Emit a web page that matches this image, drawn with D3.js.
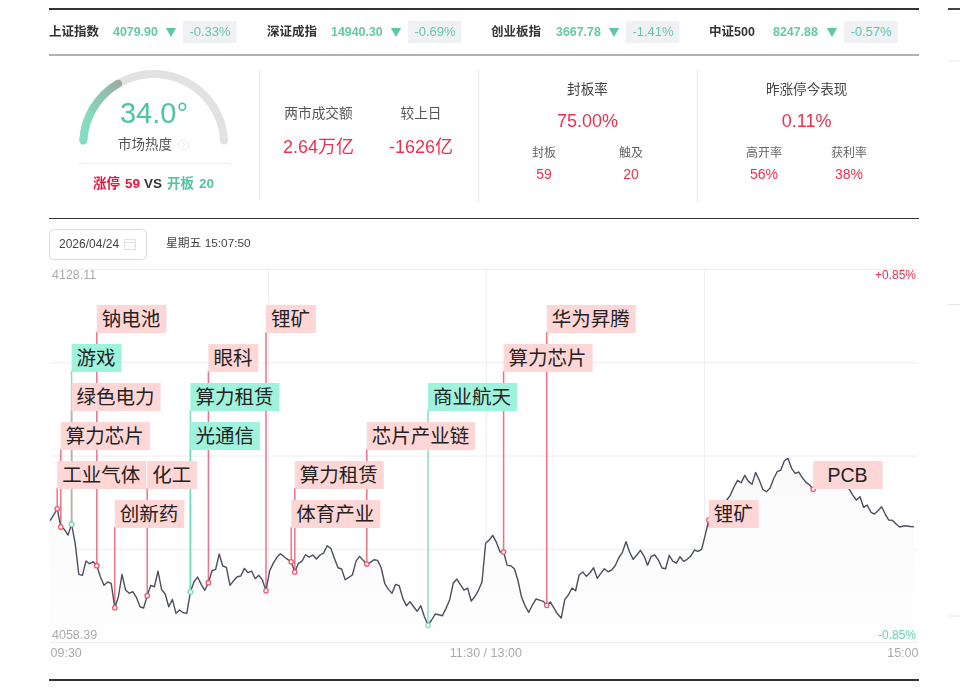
<!DOCTYPE html>
<html lang="zh"><head><meta charset="utf-8">
<script src="https://cdn.jsdelivr.net/npm/d3@7/dist/d3.min.js"></script>
<style>
html,body{margin:0;padding:0;background:#fff;overflow:hidden}
svg{display:block;filter:blur(.3px)}
text{font-family:"Liberation Sans","Noto Sans CJK SC",sans-serif}
</style></head><body><div id="chart"></div>
<script>
// index strip
const indexNames=["上证指数","深证成指","创业板指","中证500"];
const indexValues=["4079.90","14940.30","3667.78","8247.88"];
const indexChanges=["-0.33%","-0.69%","-1.41%","-0.57%"];
// sentiment
const heatDegree=34.0;
const limitUp=59, openBoard=20;
// intraday index level, one reading per minute (09:30–15:00, 240 trading minutes)
const minuteValues=[
4081.06,4082.12,4083.30,4079.88,4079.45,4078.38,4080.38,4076.83,4071.04,4070.85,
4073.52,4073.02,4073.39,4072.65,4070.59,4068.98,4069.60,4069.36,4064.79,4066.85,
4071.04,4068.10,4067.49,4067.79,4066.74,4064.98,4064.74,4067.04,4068.98,4068.72,
4071.65,4068.23,4067.36,4064.98,4066.36,4063.75,4064.37,4063.86,4063.75,4067.73,
4069.65,4070.53,4069.17,4068.05,4069.47,4071.71,4071.97,4074.83,4072.59,4072.35,
4068.98,4069.84,4070.59,4070.72,4072.16,4071.34,4071.65,4070.22,4070.85,4069.97,
4067.97,4071.65,4073.09,4074.22,4074.89,4074.33,4073.84,4073.39,4071.47,4073.09,
4073.52,4074.70,4074.27,4074.65,4073.90,4074.65,4075.02,4076.38,4075.90,4074.03,
4072.27,4072.03,4070.03,4070.48,4070.91,4073.52,4074.40,4073.65,4072.96,4073.28,
4073.77,4073.65,4072.27,4069.28,4068.23,4067.49,4069.17,4068.91,4066.55,4065.17,
4065.92,4064.98,4064.12,4065.17,4063.11,4061.51,4062.50,4063.62,4063.49,4063.30,
4064.68,4066.23,4069.36,4070.16,4069.10,4068.10,4068.48,4066.05,4066.85,4068.05,
4069.60,4076.83,4077.45,4078.33,4077.02,4075.21,4075.21,4072.72,4072.65,4072.08,
4069.84,4066.74,4065.11,4063.94,4065.30,4066.42,4066.23,4065.99,4065.24,4065.86,
4064.74,4063.62,4062.87,4066.36,4067.17,4068.48,4067.97,4070.96,4071.47,4070.66,
4071.34,4072.27,4070.29,4071.22,4072.08,4071.52,4071.84,4072.65,4074.14,4075.15,
4077.13,4075.21,4073.84,4074.65,4075.52,4074.46,4072.72,4074.40,4074.65,4073.71,
4072.22,4072.08,4074.59,4073.52,4073.15,4074.33,4073.47,4073.84,4074.46,4075.58,
4075.34,4075.71,4078.38,4081.19,4081.94,4082.68,4083.62,4084.18,4084.93,4085.86,
4087.36,4088.61,4088.16,4089.54,4088.42,4087.86,4090.10,4088.66,4086.93,4086.48,
4087.11,4088.91,4090.22,4090.53,4092.27,4092.72,4090.85,4089.92,4090.16,4089.09,
4088.23,4087.73,4086.93,4087.36,4087.92,4087.54,4088.66,4089.04,4088.29,4088.85,
4089.22,4088.10,4086.98,4085.86,4084.93,4085.54,4083.56,4083.99,4082.68,4082.31,
4082.93,4083.68,4082.31,4081.19,4081.13,4080.44,4079.88,4080.07,4080.07,4079.97,
4079.90];
const priceLevels=[4128.11,4110.68,4093.25,4075.82,4058.39];
const gridMinutes=[60.6,121.2,181.8];
const axisMinutes=[0,121.2,240];
const axisLabels=["09:30","11:30 / 13:00","15:00"];
// sector events
const eventNames=["工业气体","算力芯片","绿色电力","游戏","钠电池","创新药","化工","光通信","算力租赁","眼科","锂矿","体育产业","算力租赁","芯片产业链","商业航天","算力芯片","华为昇腾","锂矿","PCB"];
const eventMinutes=[2,3,6,6,13,18,27,39,39,44,60,67,68,88,105,126,138,183,212];
const eventRows=[1,2,3,4,5,0,1,2,3,4,5,0,1,2,3,4,5,0,1];
const eventKinds=["up","up","up","down","up","up","up","down","down","up","up","up","up","up","down","up","up","up","up"];

const RED="#ee2f4e",GREEN="#5cc8a6",INK="#333";
const W=960,H=690;
const svg=d3.select("#chart").append("svg").attr("width",W).attr("height",H).attr("viewBox",`0 0 ${W} ${H}`);
const defs=svg.append("defs");
function txt(g,x,y,s,size,fill,anchor="start",weight=400){
  return g.append("text").attr("x",x).attr("y",y).attr("font-size",size).attr("fill",fill).attr("text-anchor",anchor).attr("font-weight",weight).text(s);
}
function rule(g,x1,x2,y1,y2,c,w){g.append("line").attr("x1",x1).attr("x2",x2).attr("y1",y1).attr("y2",y2).attr("stroke",c).attr("stroke-width",w);}

// frame rules
const fr=svg.append("g");
rule(fr,49,919,9,9,"#333",2);rule(fr,49,919,55,55,"#666",1);rule(fr,49,919,218.5,218.5,"#333",1);rule(fr,49,919,680,680,"#333",2);
rule(fr,948,960,9,9,"#444",2);rule(fr,948,960,61,61,"#eee",1);rule(fr,948,960,304.5,304.5,"#e8e8e8",1);rule(fr,948,960,616,616,"#e8e8e8",1);

// index strip
const nameX=[49,267,491,709],valX=[113,331,556,773],triX=[171,396,614,832],chipX=[183,408,626,844];
const st=svg.append("g");
indexNames.forEach((n,i)=>{
  txt(st,nameX[i],36,n,12.5,"#333","start",700);
  txt(st,valX[i],36,indexValues[i],12.4,"#66c7a8","start",700);
  st.append("path").attr("d",d3.symbol(d3.symbolTriangle,46)).attr("transform",`translate(${triX[i]},31) rotate(180)`).attr("fill",GREEN);
  st.append("rect").attr("x",chipX[i]).attr("y",21).attr("width",53.5).attr("height",22).attr("fill","#eff1f5");
  txt(st,chipX[i]+27,36,indexChanges[i],13,"#66c7a8","middle");
});

// gauge
const G=svg.append("g").attr("transform","translate(153.7,144.5)");
const gr=defs.append("linearGradient").attr("id","gaugeGrad").attr("x1",0).attr("y1",1).attr("x2",1).attr("y2",0);
gr.append("stop").attr("offset",.3).attr("stop-color","#84dcc0");gr.append("stop").attr("offset",1).attr("stop-color","#9aaa9f");
const arcGen=d3.arc().innerRadius(66.5).outerRadius(74.5).cornerRadius(4);
const gaugeAngle=d3.scaleLinear().domain([0,100]).range([-Math.PI/2,Math.PI/2]);
G.append("path").attr("d",arcGen({startAngle:gaugeAngle(0),endAngle:gaugeAngle(100)})).attr("fill","#e2e2e2");
G.append("path").attr("d",arcGen({startAngle:gaugeAngle(0),endAngle:gaugeAngle(heatDegree)+0.03})).attr("fill","url(#gaugeGrad)");
txt(svg,154,123,heatDegree.toFixed(1)+"°",29,"#4fc4a0","middle");
txt(svg,145,149,"市场热度",13.5,"#555","middle");
svg.append("circle").attr("cx",183.5).attr("cy",145).attr("r",5).attr("fill","none").attr("stroke","#eaeaea").attr("stroke-width",1);
txt(svg,183.5,148,"?",8,"#ddd","middle");
rule(svg,78,230,163.5,163.5,"#eeeeee",1);
txt(svg,93,188,"涨停",13.5,"#e8143c","start",700);
txt(svg,125,188,limitUp,13.5,"#e8143c","start",700);
txt(svg,144,188,"VS",13.5,INK,"start",700);
txt(svg,167,188,"开板",13.5,"#52c39f","start",700);
txt(svg,199,188,openBoard,13.5,"#52c39f","start",700);

// stat panels
[[259.5,199],[478.5,203],[697.5,203]].forEach(d=>rule(svg,d[0],d[0],70,d[1],"#e6e6e6",1));
[[318.5,"两市成交额","2.64万亿"],[421,"较上日","-1626亿"]].forEach(d=>{
  txt(svg,d[0],118,d[1],13.7,"#555","middle");txt(svg,d[0],153,d[2],18,RED,"middle");
});
[[587.5,"封板率","75.00%"],[806.7,"昨涨停今表现","0.11%"]].forEach(d=>{
  txt(svg,d[0],94,d[1],13.6,"#444","middle");txt(svg,d[0],127,d[2],18,RED,"middle");
});
[[544,"封板","59"],[631,"触及","20"],[764,"高开率","56%"],[849,"获利率","38%"]].forEach(d=>{
  txt(svg,d[0],157,d[1],12,"#666","middle");txt(svg,d[0],179,d[2],14,RED,"middle");
});

// date control
svg.append("rect").attr("x",49.5).attr("y",229.5).attr("width",97).attr("height",30).attr("rx",4).attr("fill","#fff").attr("stroke","#dcdcdc");
txt(svg,59,248,"2026/04/24",12,"#444");
const cal=svg.append("g").attr("stroke","#e2e2e2").attr("fill","none");
cal.append("rect").attr("x",124.5).attr("y",239.5).attr("width",11).attr("height",10);
cal.append("line").attr("x1",124.5).attr("x2",135.5).attr("y1",242.5).attr("y2",242.5);
cal.append("line").attr("x1",124.5).attr("x2",135.5).attr("y1",246).attr("y2",246).attr("stroke-dasharray","1.5 1.5");
txt(svg,166,247,"星期五 15:07:50",11.8,"#444");

// chart
const x=d3.scaleLinear().domain([0,240]).range([50,914]);
const y=d3.scaleLinear().domain([4058.39,4128.11]).range([642,269]);
const plotRight=918;
const plot=svg.append("g");
plot.selectAll("line.h").data(priceLevels).join("line").attr("class","h")
  .attr("x1",50).attr("x2",plotRight).attr("y1",d=>y(d)+.5).attr("y2",d=>y(d)+.5).attr("stroke","#eeeeee");
plot.selectAll("line.v").data(gridMinutes).join("line").attr("class","v")
  .attr("x1",d=>Math.round(x(d))+.5).attr("x2",d=>Math.round(x(d))+.5).attr("y1",y(4128.11)).attr("y2",y(4058.39)).attr("stroke","#eeeeee");

const ag=defs.append("linearGradient").attr("id","areaGrad").attr("gradientUnits","userSpaceOnUse").attr("x1",0).attr("x2",0).attr("y1",y(4092.72)).attr("y2",y(4058.39));
ag.append("stop").attr("offset",0).attr("stop-color","#f9f9fa");ag.append("stop").attr("offset",1).attr("stop-color","#fefefe");
plot.append("path").datum(minuteValues)
  .attr("d",d3.area().x((d,i)=>x(i)).y0(y(4058.39)).y1(d=>y(d))).attr("fill","url(#areaGrad)");

const rowTop=d3.scaleLinear().domain([0,5]).range([500,305]);
const events=eventNames.map((n,i)=>({n,m:eventMinutes[i],r:eventRows[i],k:eventKinds[i]}));
plot.selectAll("line.s").data(events).join("line").attr("class","s")
  .attr("x1",d=>x(d.m)).attr("x2",d=>x(d.m)).attr("y1",d=>rowTop(d.r)+27).attr("y2",d=>y(minuteValues[d.m]))
  .attr("stroke",d=>d.k==="up"?"#f0576f":"#6fdab9").attr("stroke-opacity",.85).attr("stroke-width",1.5);
plot.append("path").datum(minuteValues).attr("d",d3.line().x((d,i)=>x(i)).y(d=>y(d)))
  .attr("fill","none").attr("stroke","#4b4f5e").attr("stroke-width",1.4).attr("stroke-linejoin","round");
plot.selectAll("circle.m").data(events).join("circle").attr("class","m")
  .attr("cx",d=>x(d.m)).attr("cy",d=>y(minuteValues[d.m])).attr("r",2.2)
  .attr("fill","#fff").attr("stroke",d=>d.k==="up"?"#f0576f":"#7fdcc0").attr("stroke-width",1.3);
const lab=plot.selectAll("g.l").data(events).join("g").attr("class","l")
  .attr("transform",d=>`translate(${x(d.m)},${rowTop(d.r)})`);
const labelW=d=>d.n.length*19.5+11;
lab.append("rect").attr("width",labelW).attr("height",28).attr("fill",d=>d.k==="up"?"#ffd6d6":"#9ff3dc");
lab.append("text").attr("x",d=>labelW(d)/2-.5).attr("y",21).attr("text-anchor","middle")
  .attr("font-size",19.5).attr("fill","#222").text(d=>d.n);

// corner labels
txt(svg,52,279,d3.format(".2f")(priceLevels[0]),12.5,"#aaa");
txt(svg,52,639,d3.format(".2f")(priceLevels[4]),12.5,"#aaa");
txt(svg,916,279,"+0.85%",12,RED,"end");
txt(svg,916,639,"-0.85%",12,"#66d3ae","end");

// time axis
const ax=svg.append("g").attr("transform","translate(0,642)").call(
  d3.axisBottom(x).tickValues(axisMinutes).tickSize(0).tickPadding(6).tickFormat((d,i)=>axisLabels[i]));
ax.select(".domain").remove();
ax.selectAll("text").attr("font-size",12.5).attr("fill","#aaa").attr("font-family",null)
  .attr("text-anchor",(d,i)=>["start","middle","end"][i]).attr("dx",(d,i)=>[0,-1,4][i]);
</script></body></html>
